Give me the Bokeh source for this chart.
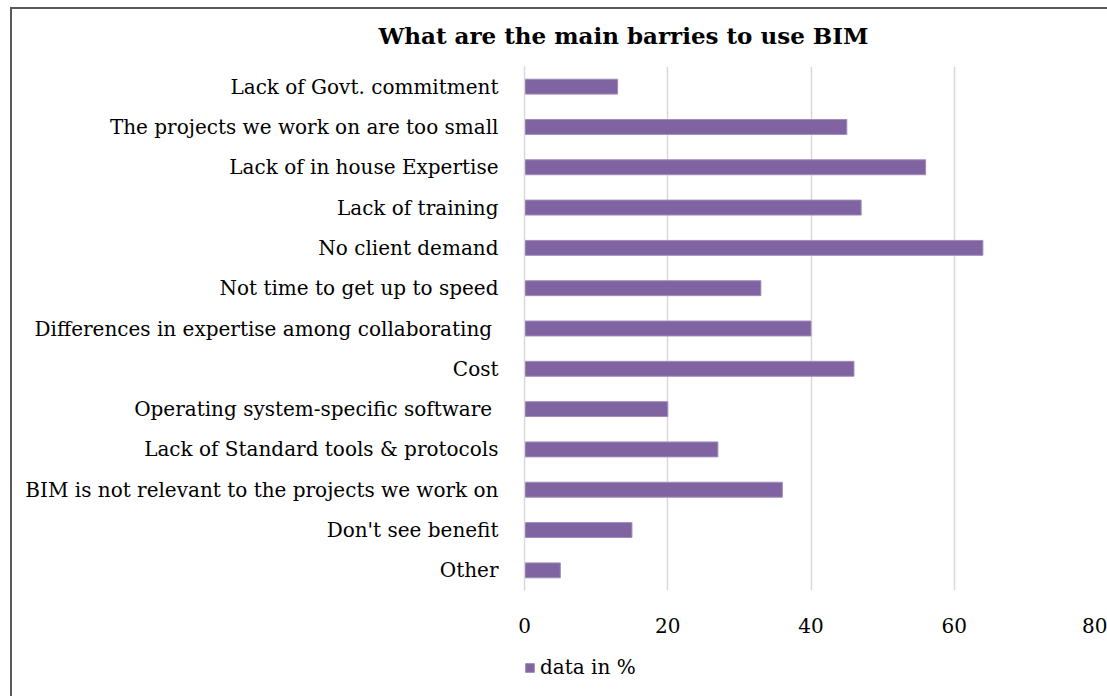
import numpy as np
from bokeh.plotting import figure
from bokeh.models import FactorRange, Range1d, FixedTicker, Legend, LegendItem, Title
from bokeh.layouts import column
from bokeh.embed import file_html
from bokeh.resources import INLINE

categories = [
    "Lack of Govt. commitment",
    "The projects we work on are too small",
    "Lack of in house Expertise",
    "Lack of training",
    "No client demand",
    "Not time to get up to speed",
    "Differences in expertise among collaborating ",
    "Cost",
    "Operating system-specific software ",
    "Lack of Standard tools & protocols",
    "BIM is not relevant to the projects we work on",
    "Don't see benefit",
    "Other",
]
values = [13, 45, 56, 47, 64, 33, 40, 46, 20, 27, 36, 15, 5]
x_ticks = [0, 20, 40, 60, 80]
title_text = "What are the main barries  to use BIM"
series_name = "data in %"

FONT = "DejaVu Serif"
BAR = "#8064A2"
BAR_EDGE = "#9F8CBA"

# ---------------- main chart ----------------
p = figure(
    frame_width=573, frame_height=524,
    y_range=FactorRange(*reversed(categories), range_padding=0),
    x_range=Range1d(0, 80),
    output_backend="svg", toolbar_location=None,
    min_border_left=512, min_border_right=10,
    min_border_top=57, min_border_bottom=52,
    title=None,
)

# spacer (nearest to frame), then the real title above it
p.add_layout(Title(text=" ", text_font_size="1px", standoff=8), "above")
p.add_layout(Title(text=title_text, text_font=FONT, text_font_size="23px",
                   text_font_style="bold", text_color="#000000",
                   align="left", offset=-146, standoff=13), "above")

p.hbar(y=categories, right=values, left=0, height=0.37,
       fill_color=BAR, line_color=BAR_EDGE, line_width=1)

p.outline_line_color = None
p.background_fill_color = "white"
p.border_fill_color = "white"

p.ygrid.grid_line_color = None
p.xgrid.grid_line_color = "#D9D9D9"
p.xgrid.grid_line_width = 1.5
p.xaxis.ticker = FixedTicker(ticks=x_ticks)
p.xaxis.axis_line_color = None
p.xaxis.major_tick_line_color = None
p.xaxis.minor_tick_line_color = None
p.xaxis.major_tick_out = 0
p.xaxis.major_tick_in = 0
p.xaxis.major_label_standoff = 27
p.xaxis.major_label_text_font = FONT
p.xaxis.major_label_text_font_size = "20px"
p.xaxis.major_label_text_color = "#000000"

p.yaxis.axis_line_color = "#D9D9D9"
p.yaxis.axis_line_width = 1.5
p.yaxis.major_tick_line_color = None
p.yaxis.minor_tick_line_color = None
p.yaxis.major_tick_out = 0
p.yaxis.major_tick_in = 0
p.yaxis.major_label_standoff = 26
p.yaxis.major_label_text_font = FONT
p.yaxis.major_label_text_font_size = "20px"
p.yaxis.major_label_text_color = "#000000"

# ---------------- legend strip ----------------
p2 = figure(
    width=1095, height=54,
    x_range=Range1d(0, 1), y_range=Range1d(0, 1),
    x_axis_type=None, y_axis_type=None,
    output_backend="svg", toolbar_location=None,
    min_border=0, title=None,
)
p2.outline_line_color = None
p2.grid.grid_line_color = None
p2.background_fill_color = "white"
p2.border_fill_color = "white"
# legend-only proxy renderer (nothing is drawn for it in the strip)
r2 = p2.hbar(y=[np.nan], right=[np.nan], left=[np.nan], height=0.37,
             fill_color=BAR, line_color=BAR_EDGE)

legend = Legend(
    items=[LegendItem(label=series_name, renderers=[r2])],
    location=(0, 17),
    orientation="horizontal",
    label_text_font=FONT,
    label_text_font_size="20px",
    label_text_color="#000000",
    glyph_width=11, glyph_height=11,
    label_standoff=5,
    border_line_color=None,
    background_fill_alpha=0,
    padding=0, margin=0,
)
p2.add_layout(legend, "center")

layout = column(p, p2, spacing=0, margin=(7, 0, 0, 10),
                styles={"border-left": "2px solid #595959",
                        "border-top": "2px solid #595959"})

open("out.html", "w").write(file_html(layout, INLINE))
